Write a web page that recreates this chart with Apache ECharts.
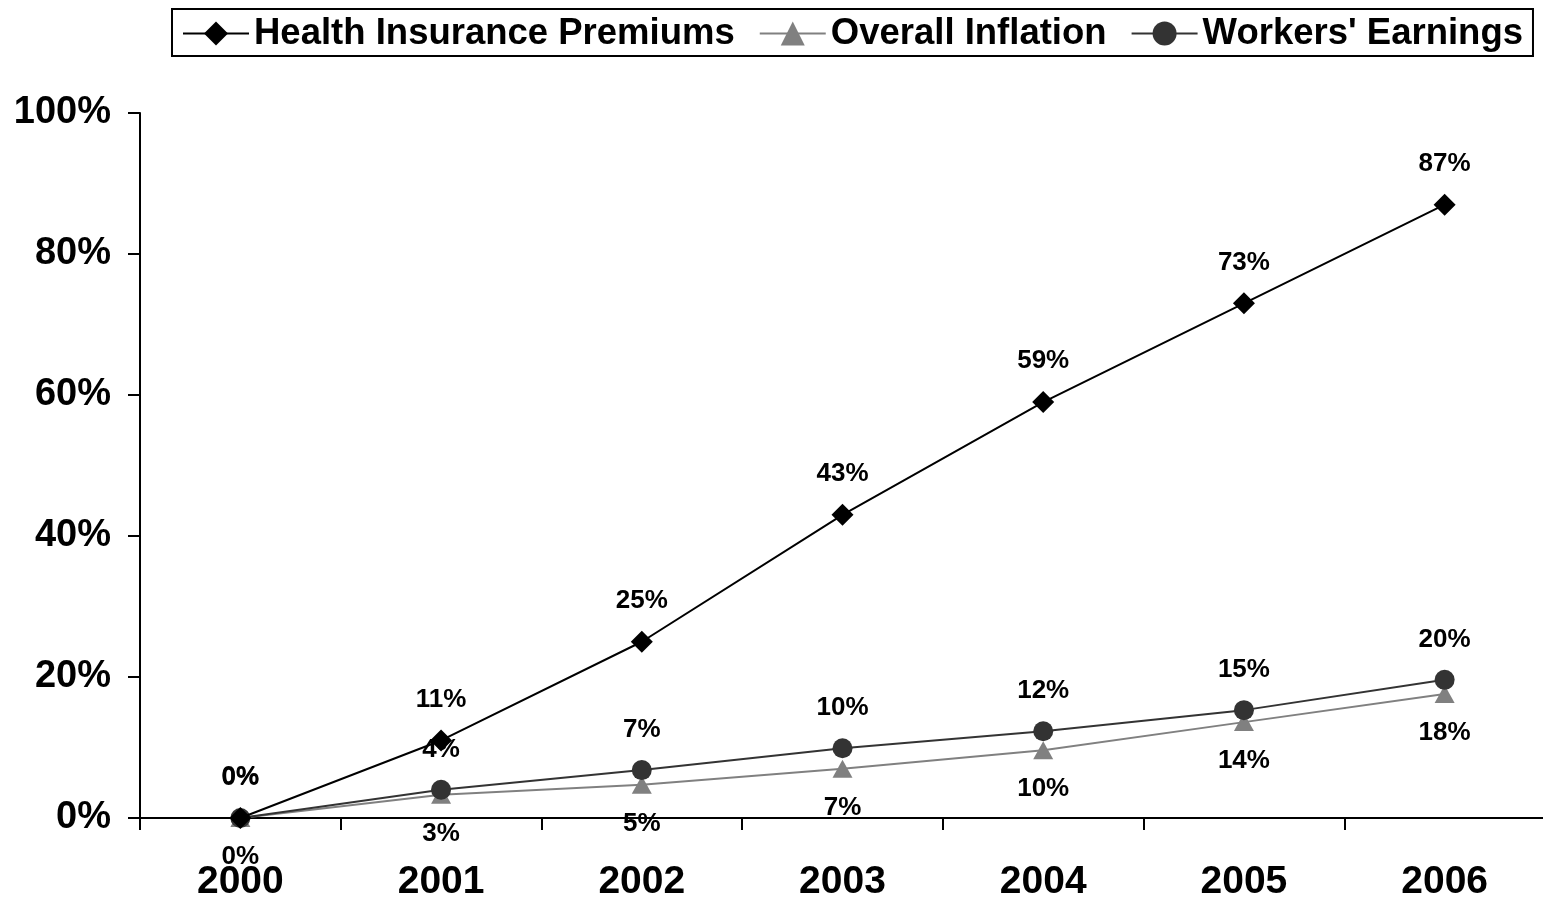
<!DOCTYPE html>
<html>
<head>
<meta charset="utf-8">
<script src="https://cdn.jsdelivr.net/npm/echarts@6/dist/echarts.min.js"></script>
<style>
html,body{margin:0;padding:0;background:#fff;}
#chart{width:1543px;height:900px;}
</style>
</head>
<body>
<div id="chart"></div>
<script>
const years = ['2000','2001','2002','2003','2004','2005','2006'];
const healthPremiums = [0, 11, 25, 43, 59, 73, 87];
const overallInflation = [0, 3.3, 4.7, 7.0, 9.6, 13.6, 17.6];
const workersEarnings = [0, 4.0, 6.8, 9.9, 12.3, 15.3, 19.6];
const seriesNames = ['Health Insurance Premiums', 'Overall Inflation', "Workers' Earnings"];

const FONT = '"Liberation Sans", Arial, sans-serif';
const chart = echarts.init(document.getElementById('chart'));

function lbl(pos) {
  return {
    show: true, position: pos, distance: 17,
    fontFamily: FONT, fontWeight: 'bold', fontSize: 26, color: '#000',
    formatter: p => Math.round(p.value) + '%'
  };
}

chart.setOption({
  animation: false,
  backgroundColor: '#fff',
  legend: {
    data: seriesNames,
    left: 172, top: 9,
    width: 1360,
    orient: 'horizontal',
    padding: [6, 10, 4, 10],
    itemGap: 24,
    itemWidth: 66,
    itemHeight: 30,
    borderColor: '#000',
    borderWidth: 2,
    lineStyle: { width: 2 },
    textStyle: { fontFamily: FONT, fontWeight: 'bold', fontSize: 36.5, color: '#000' }
  },
  grid: { left: 140, top: 113, width: 1405, bottom: 82, containLabel: false, outerBoundsMode: 'none' },
  xAxis: {
    type: 'category',
    data: years,
    boundaryGap: true,
    axisLine: { lineStyle: { color: '#000', width: 2 } },
    axisTick: { show: true, length: 12, lineStyle: { color: '#000', width: 2 } },
    axisLabel: { margin: 45, fontFamily: FONT, fontWeight: 'bold', fontSize: 39, color: '#000' },
    splitLine: { show: false }
  },
  yAxis: {
    type: 'value',
    min: 0, max: 100, interval: 20,
    axisLine: { show: true, lineStyle: { color: '#000', width: 2 } },
    axisTick: { show: true, length: 12, lineStyle: { color: '#000', width: 2 } },
    axisLabel: { margin: 29, formatter: '{value}%', fontFamily: FONT, fontWeight: 'bold', fontSize: 38, color: '#000' },
    splitLine: { show: false }
  },
  series: [
    {
      name: seriesNames[1], type: 'line', data: overallInflation,
      symbol: 'triangle', symbolSize: [20, 18],
      lineStyle: { color: '#808080', width: 2 },
      itemStyle: { color: '#808080' },
      label: lbl('bottom'), z: 2
    },
    {
      name: seriesNames[2], type: 'line', data: workersEarnings,
      symbol: 'circle', symbolSize: 20,
      lineStyle: { color: '#333333', width: 2 },
      itemStyle: { color: '#333333' },
      label: lbl('top'), z: 3
    },
    {
      name: seriesNames[0], type: 'line', data: healthPremiums,
      symbol: 'diamond', symbolSize: 22,
      lineStyle: { color: '#000', width: 2 },
      itemStyle: { color: '#000' },
      label: lbl('top'), z: 4
    }
  ]
});
</script>
</body>
</html>
